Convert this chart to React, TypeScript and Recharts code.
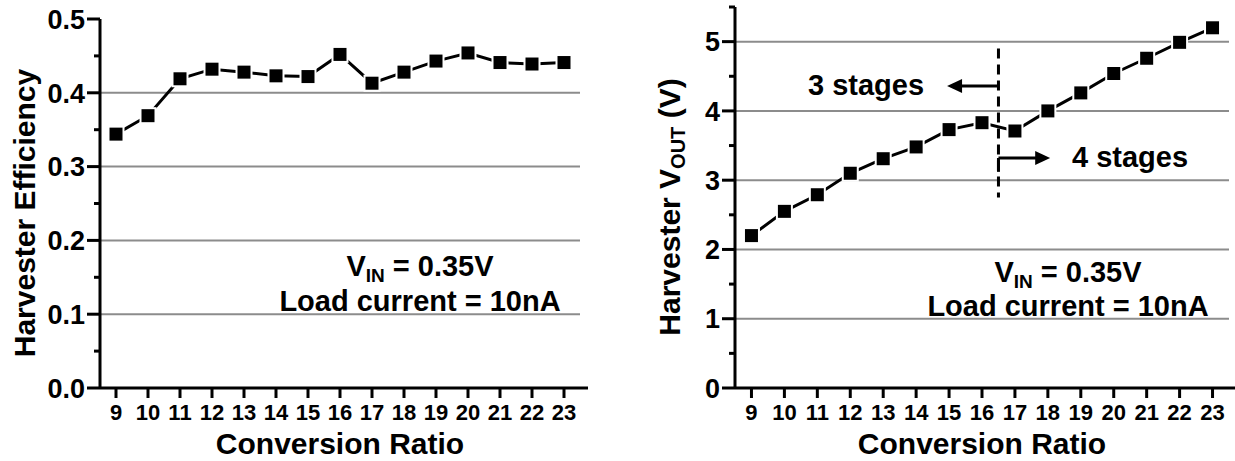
import { LineChart, Line, XAxis, YAxis, ReferenceLine, ReferenceDot } from 'recharts'

// conversion ratio on x, shared by both panels
const ratios = [9, 10, 11, 12, 13, 14, 15, 16, 17, 18, 19, 20, 21, 22, 23]
const efficiency = [0.344, 0.369, 0.419, 0.432, 0.428, 0.423, 0.422, 0.452, 0.413, 0.428, 0.443, 0.454, 0.441, 0.439, 0.441]
const vout = [2.2, 2.55, 2.79, 3.1, 3.31, 3.48, 3.73, 3.83, 3.71, 4.0, 4.26, 4.54, 4.76, 4.99, 5.2]

const effTicks = [0, 0.05, 0.1, 0.15, 0.2, 0.25, 0.3, 0.35, 0.4, 0.45, 0.5]
const voutTicks = [0, 0.5, 1, 1.5, 2, 2.5, 3, 3.5, 4, 4.5, 5, 5.5]
const effGrid = [0.1, 0.2, 0.3, 0.4]
const voutGrid = [1, 2, 3, 4, 5]

// stage boundary annotation (right panel)
const stageSplit = 16.5
const dashFrom = 4.9
const dashTo = 2.75
const leftArrowY = 4.36
const leftArrowTip = 14.94
const rightArrowY = 3.32
const rightArrowTip = 18.07
const cornerBottom = 3.12

const FONT = '"Liberation Sans", Arial, Helvetica, sans-serif'

const effData = ratios.map((r, i) => ({ ratio: r, value: efficiency[i] }))
const voutData = ratios.map((r, i) => ({ ratio: r, value: vout[i] }))

const makeYTick = (step: number, digits: number) => (props: any) => {
  const { x, y, payload } = props
  const v = payload.value
  const major = Math.abs(v / step - Math.round(v / step)) < 1e-6
  return (
    <g>
      <line x1={x - (major ? 13 : 6)} x2={x} y1={y} y2={y} stroke="#000" strokeWidth={3} />
      {major && (
        <text x={x - 15} y={y} dy="0.36em" textAnchor="end" fontFamily={FONT} fontWeight="bold" fontSize={27} fill="#000">
          {v.toFixed(digits)}
        </text>
      )}
    </g>
  )
}

const XTick = (props: any) => {
  const { x, y, payload } = props
  return (
    <g>
      <line x1={x} x2={x} y1={y} y2={y + 10} stroke="#000" strokeWidth={3} />
      <text x={x} y={y + 32} textAnchor="middle" fontFamily={FONT} fontWeight="bold" fontSize={22} fill="#000">
        {payload.value}
      </text>
    </g>
  )
}

const SquareDot = (props: any) => {
  const { cx, cy, index } = props
  if (cx == null || cy == null) return null
  return <rect key={index} x={cx - 7.5} y={cy - 7.5} width={15} height={15} fill="#000" stroke="#fff" strokeWidth={2} />
}

const arrowHead = (dir: number) => (props: any) => {
  const { cx, cy } = props
  return <path d={`M${cx},${cy} L${cx - dir * 15},${cy - 7} L${cx - dir * 15},${cy + 7} Z`} fill="#000" />
}

function Panel({ data, ticks, grid, domain, step, digits, margin, left, children }: any) {
  return (
    <div style={{ position: 'absolute', left, top: 0 }}>
      <LineChart width={600} height={461} data={data} margin={margin}>
        <XAxis
          dataKey="ratio"
          type="number"
          domain={[8.5, 23.5]}
          ticks={ratios}
          interval={0}
          tickSize={0}
          tickMargin={0}
          height={73}
          tick={<XTick />}
          axisLine={{ stroke: '#000', strokeWidth: 3 }}
          tickLine={false}
        />
        <YAxis
          type="number"
          domain={domain}
          ticks={ticks}
          interval={0}
          width={100}
          tickSize={0}
          tickMargin={0}
          tick={makeYTick(step, digits)}
          axisLine={{ stroke: '#000', strokeWidth: 3 }}
          tickLine={false}
        />
        {grid.map((g: number) => (
          <ReferenceLine key={g} y={g} stroke="#8c8c8c" strokeWidth={2} />
        ))}
        <ReferenceLine
          segment={[{ x: 23.5, y: 0 }, { x: 23.75, y: 0 }]}
          stroke="#000"
          strokeWidth={3}
          ifOverflow="visible"
        />
        {children}
        <Line
          type="linear"
          dataKey="value"
          stroke="#000"
          strokeWidth={3}
          dot={<SquareDot />}
          activeDot={false}
          isAnimationActive={false}
        />
      </LineChart>
    </div>
  )
}

export default function App() {
  const bold = { fontFamily: FONT, fontWeight: 'bold' as const, fill: '#000' }
  return (
    <div style={{ position: 'absolute', left: 0, top: 0, width: 1235, height: 461, background: '#fff' }}>
      <Panel
        data={effData}
        ticks={effTicks}
        grid={effGrid}
        domain={[0, 0.5]}
        step={0.1}
        digits={1}
        margin={{ top: 19, right: 20, left: 0, bottom: 0 }}
        left={0}
      />
      <Panel
        data={voutData}
        ticks={voutTicks}
        grid={voutGrid}
        domain={[0, 5.5]}
        step={1}
        digits={0}
        margin={{ top: 7, right: 6, left: 0, bottom: 0 }}
        left={635}
      >
        <ReferenceLine
          segment={[{ x: stageSplit, y: dashFrom }, { x: stageSplit, y: dashTo }]}
          stroke="#000"
          strokeWidth={3}
          strokeDasharray="10 6"
        />
        <ReferenceLine
          segment={[{ x: stageSplit, y: leftArrowY }, { x: leftArrowTip + 0.3, y: leftArrowY }]}
          stroke="#000"
          strokeWidth={3}
        />
        <ReferenceDot x={leftArrowTip} y={leftArrowY} r={0} shape={arrowHead(-1)} ifOverflow="visible" />
        <ReferenceLine
          segment={[{ x: stageSplit, y: rightArrowY }, { x: rightArrowTip - 0.3, y: rightArrowY }]}
          stroke="#000"
          strokeWidth={3}
        />
        <ReferenceLine
          segment={[{ x: stageSplit, y: cornerBottom }, { x: stageSplit, y: rightArrowY }]}
          stroke="#000"
          strokeWidth={3}
        />
        <ReferenceDot x={rightArrowTip} y={rightArrowY} r={0} shape={arrowHead(1)} ifOverflow="visible" />
      </Panel>

      <svg width={1235} height={461} style={{ position: 'absolute', left: 0, top: 0, pointerEvents: 'none' }}>
        <text transform="translate(35,213) rotate(-90)" textAnchor="middle" fontSize={30} {...bold}>
          Harvester Efficiency
        </text>
        <text x={340} y={454} textAnchor="middle" fontSize={30} {...bold}>
          Conversion Ratio
        </text>
        <text x={420} y={276} textAnchor="middle" fontSize={29} {...bold}>
          V<tspan fontSize={19} dy={6}>IN</tspan>
          <tspan dy={-6}> = 0.35V</tspan>
        </text>
        <text x={420} y={311} textAnchor="middle" fontSize={29} {...bold}>
          Load current = 10nA
        </text>

        <text transform="translate(680,207) rotate(-90)" textAnchor="middle" fontSize={30} {...bold}>
          Harvester V<tspan fontSize={20} dy={5}>OUT</tspan>
          <tspan dy={-5}> (V)</tspan>
        </text>
        <text x={982} y={454} textAnchor="middle" fontSize={30} {...bold}>
          Conversion Ratio
        </text>
        <text x={866} y={95} textAnchor="middle" fontSize={29} {...bold}>
          3 stages
        </text>
        <text x={1130} y={167} textAnchor="middle" fontSize={29} {...bold}>
          4 stages
        </text>
        <text x={1068} y={282} textAnchor="middle" fontSize={29} {...bold}>
          V<tspan fontSize={19} dy={6}>IN</tspan>
          <tspan dy={-6}> = 0.35V</tspan>
        </text>
        <text x={1068} y={316} textAnchor="middle" fontSize={29} {...bold}>
          Load current = 10nA
        </text>
      </svg>
    </div>
  )
}
